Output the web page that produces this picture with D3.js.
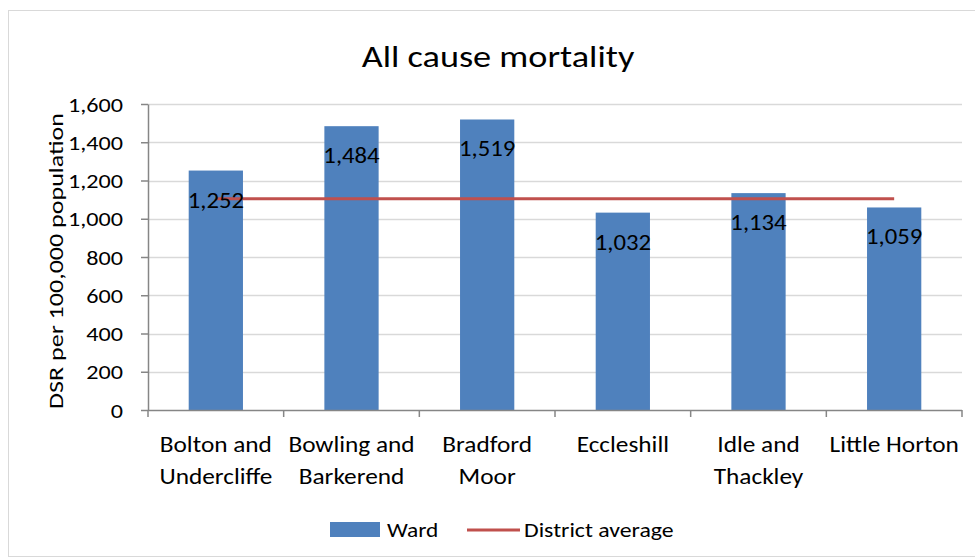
<!DOCTYPE html>
<html>
<head>
<meta charset="utf-8">
<script src="https://cdn.jsdelivr.net/npm/d3@7"></script>
<style>
  html, body { margin: 0; padding: 0; background: #fff; }
  svg { display: block; font-family: Carlito, Lato, "Open Sans", sans-serif; }
</style>
</head>
<body>
<svg id="chart" width="975" height="560"></svg>
<script>
// Ward names (two-line labels) and directly standardised rates
const wards = ["Bolton and Undercliffe", "Bowling and Barkerend", "Bradford Moor", "Eccleshill", "Idle and Thackley", "Little Horton"];
const wardLines = [["Bolton and", "Undercliffe"], ["Bowling and", "Barkerend"], ["Bradford", "Moor"], ["Eccleshill"], ["Idle and", "Thackley"], ["Little Horton"]];
const wardRates = [1252, 1484, 1519, 1032, 1134, 1059];
const districtAverage = [1105, 1105, 1105, 1105, 1105, 1105];
const yTicks = [0, 200, 400, 600, 800, 1000, 1200, 1400, 1600];

const svg = d3.select("#chart");
const W = 975, H = 560;
const plot = { left: 148, right: 962, top: 104, bottom: 410 };
const WIDE = 1.15; // horizontal widening applied to the chart's lettering

// Text helper: places a string at (x, y) with a horizontal widening factor
function label(g, x, y, str, size, anchor, k = WIDE) {
  return g.append("text")
    .attr("transform", `translate(${x},${y}) scale(${k},1)`)
    .attr("text-anchor", anchor).attr("font-size", size).attr("fill", "#000")
    .text(str);
}

// Outer chart border
svg.append("rect").attr("x", 8.5).attr("y", 10.5).attr("width", W - 6).attr("height", H - 14)
  .attr("fill", "#fff").attr("stroke", "#d9d9d9").attr("stroke-width", 1);

const x = d3.scaleBand().domain(wards).range([plot.left, plot.right]).paddingInner(0).paddingOuter(0);
const y = d3.scaleLinear().domain([0, 1600]).range([plot.bottom, plot.top]);
const fmt = d3.format(",");

// Title
label(svg, 498, 67, "All cause mortality", 31, "middle", 1.17);

// Gridlines
svg.append("g").selectAll("line").data(yTicks.filter(d => d > 0)).join("line")
  .attr("x1", plot.left).attr("x2", plot.right)
  .attr("y1", d => Math.round(y(d)) + 0.5).attr("y2", d => Math.round(y(d)) + 0.5)
  .attr("stroke", "#d9d9d9").attr("stroke-width", 1.5);

// Y axis
const yAxis = svg.append("g").attr("transform", `translate(${plot.left},0)`)
  .call(d3.axisLeft(y).tickValues(yTicks).tickFormat(fmt).tickSize(7).tickSizeOuter(0));
yAxis.select(".domain").attr("stroke", "#868686").attr("stroke-width", 1.5);
yAxis.selectAll(".tick line").attr("stroke", "#868686").attr("stroke-width", 1.5);
yAxis.selectAll(".tick text").attr("font-size", 21).attr("fill", "#000")
  .attr("font-family", "Carlito, Lato, 'Open Sans', sans-serif")
  .attr("x", -25 / WIDE).attr("dy", "0.34em")
  .attr("transform", `scale(${WIDE},1)`);

// Y axis title (rotated; widened along its length)
svg.append("text")
  .attr("transform", `translate(63,261) rotate(-90) scale(1.24,1)`)
  .attr("text-anchor", "middle").attr("font-size", 21).attr("fill", "#000")
  .text("DSR per 100,000 population");

// Bars
const barW = x.bandwidth() * 0.4;
svg.append("g").selectAll("rect").data(wards).join("rect")
  .attr("x", (d) => x(d) + (x.bandwidth() - barW) / 2)
  .attr("y", (d, i) => y(wardRates[i]))
  .attr("width", barW)
  .attr("height", (d, i) => y(0) - y(wardRates[i]))
  .attr("fill", "#4f81bd");

// X axis line and category separators
svg.append("line").attr("x1", plot.left).attr("x2", plot.right)
  .attr("y1", plot.bottom + 0.5).attr("y2", plot.bottom + 0.5)
  .attr("stroke", "#868686").attr("stroke-width", 1.5);
const bounds = wards.map(d => x(d)).concat([plot.right]);
svg.append("g").selectAll("line").data(bounds).join("line")
  .attr("x1", d => d).attr("x2", d => d)
  .attr("y1", plot.bottom).attr("y2", plot.bottom + 7)
  .attr("stroke", "#868686").attr("stroke-width", 1.5);

// Category labels (one or two lines)
const catG = svg.append("g");
wards.forEach((d, i) => {
  wardLines[i].forEach((t, j) => {
    label(catG, x(d) + x.bandwidth() / 2, 452 + j * 32, t, 23, "middle", 1.1);
  });
});

// District average line
const line = d3.line().x((d, i) => x(wards[i]) + x.bandwidth() / 2).y(d => y(d));
svg.append("path").datum(districtAverage).attr("d", line)
  .attr("fill", "none").attr("stroke", "#c0504d").attr("stroke-width", 3);

// Value labels inside bar ends
const valG = svg.append("g");
wards.forEach((d, i) => {
  label(valG, x(d) + x.bandwidth() / 2, y(wardRates[i]) + 37, fmt(wardRates[i]), 21.5, "middle");
});

// Legend
const lg = svg.append("g");
lg.append("rect").attr("x", 330).attr("y", 522).attr("width", 50).attr("height", 15).attr("fill", "#4f81bd");
label(lg, 387, 537, "Ward", 19.5, "start", 1.2);
lg.append("line").attr("x1", 467).attr("x2", 520).attr("y1", 530).attr("y2", 530)
  .attr("stroke", "#c0504d").attr("stroke-width", 3);
label(lg, 524, 537, "District average", 19.5, "start", 1.22);
</script>
</body>
</html>
